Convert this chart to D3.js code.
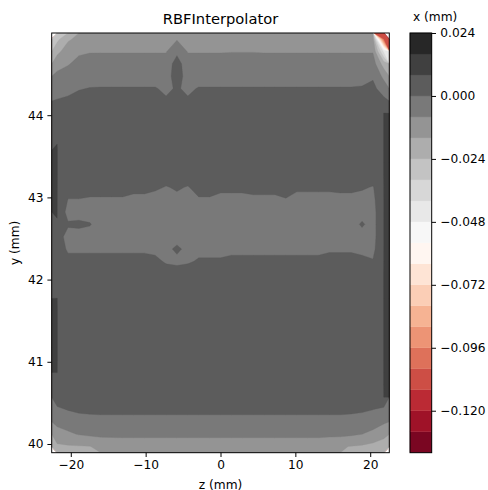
<!DOCTYPE html>
<html>
<head>
<meta charset="utf-8">
<script src="https://cdn.jsdelivr.net/npm/d3@7"></script>
<style>
  body { margin: 0; background: #fff; }
  text { font-family: "DejaVu Sans", sans-serif; fill: #000; }
</style>
</head>
<body>
<div class="vis-contour"></div>
<script>
// grid extent (cell edges) in mm
const zRange = [-22.55, 22.55];
const yRange = [39.894, 45.0];

const zTicks = [-20, -10, 0, 10, 20];
const yTicks = [40, 41, 42, 43, 44];
const cbarTicks = [0.024, 0.0, -0.024, -0.048, -0.072, -0.096, -0.120];

// contourf levels (mm)
const levels = [-0.136, -0.128, -0.120, -0.112, -0.104, -0.096, -0.088, -0.080, -0.072, -0.064,
  -0.056, -0.048, -0.040, -0.032, -0.024, -0.016, -0.008, 0.0, 0.008, 0.016, 0.024];

// RdGy colormap stops
const rdgyStops = ["#67001f", "#b2182b", "#d6604d", "#f4a582", "#fddbc7", "#ffffff",
  "#e0e0e0", "#bababa", "#878787", "#4d4d4d", "#1a1a1a"];

// x displacement in micrometres; rows from y = 45 (top) down to y = 39.9,
// 31 columns from z = -22.5 to z = 22.5
const xMicron = [
  [-26, -17, -14, -13, -12, -12, -12, -12, -12, -12, -12, -8.6, -12, -12, -12, -12, -12, -12, -12, -12, -12, -12, -12, -12, -12, -12, -12, -12, -12, -12, -106],
  [-18, -12, -9, -8.5, -8.5, -8.5, -8.5, -8.5, -8.5, -8.5, -8.5, -1.5, -8.5, -8.5, -8.5, -8.5, -8.3, -8.3, -8.3, -8.5, -8.5, -8.5, -8.5, -8.5, -8.5, -8.5, -8.5, -8.5, -8.5, -8.5, -42],
  [-11, -8.5, -6, -4.5, -4, -4, -4, -4, -4, -4, -4, 3, -4, -4, -4, -4, -4, -4, -4, -4, -4, -4, -4, -4, -4, -4, -4, -4, -4, -4, -20],
  [-6, -5, -4, -3.5, -3.5, -3.5, -3.5, -3.5, -3.5, -3.5, -3.5, 4, -3.5, -3.5, -3.5, -3.5, -3.5, -3.5, -3.5, -3.5, -3.5, -3.5, -3.5, -3.5, -3.5, -3.5, -3.5, -3.5, -3, -1, -10],
  [-3, -1.5, -0.5, 0.3, 0.5, 0.5, 0.5, 0.5, 0.5, 0.5, -1.5, 0.8, -1.5, 0.5, 0.5, 0.5, 0.5, 0.5, 0.5, 0.5, 0.5, 0.5, 0.5, 0.5, 0.5, 0.5, 0.5, 0.5, 0.8, 2, -4],
  [0.5, 1, 3, 4, 4, 4, 4, 4, 4, 4, 1, 3, 1, 4, 4, 4, 4, 4, 4, 4, 4, 4, 4, 4, 4, 4, 4, 4, 4, 4, 2],
  [4, 4, 4, 4, 4, 4, 4, 4, 4, 4, 4, 4, 4, 4, 4, 4, 4, 4, 4, 4, 4, 4, 4, 4, 4, 4, 4, 4, 4, 4, 8.1],
  [4, 4, 4, 4, 4, 4, 4, 4, 4, 4, 4, 4, 4, 4, 4, 4, 4, 4, 4, 4, 4, 4, 4, 4, 4, 4, 4, 4, 4, 4, 8.1],
  [7.9, 4, 4, 4, 4, 4, 4, 4, 4, 4, 4, 4, 4, 4, 4, 4, 4, 4, 4, 4, 4, 4, 4, 4, 4, 4, 4, 4, 4, 4, 8.1],
  [8.1, 4, 4, 4, 4, 4, 4, 4, 4, 4, 4, 4, 4, 4, 4, 4, 4, 4, 4, 4, 4, 4, 4, 4, 4, 4, 4, 4, 4, 4, 8.1],
  [8.1, 4, 4, 4, 4, 4, 4, 4, 4, 4, 4, 4, 4, 4, 4, 4, 4, 4, 4, 4, 4, 4, 4, 4, 4, 4, 4, 4, 4, 4, 8.1],
  [8.1, 4, 4, 4, 4, 4, 4, 4, 4, 4, 4, 4, 4, 4, 4, 4, 4, 4, 4, 4, 4, 4, 4, 4, 4, 4, 4, 4, 4, 4, 8.1],
  [8.1, 3, 3, 3, 3, 3, 3, 3, 3, 1.5, -0.5, 1, -0.5, 3, 3, 2.5, 2.5, 2.5, 3, 3, 3, 3, 2, 2, 2, 2, 2.5, 2.5, 1, -0.5, 8.1],
  [8.1, -0.2, -0.2, -0.85, -0.85, -0.85, -0.85, -2.6, -2.6, -3.5, -2, -2, -2, -0.85, -0.85, -3, -3, -3, -2, -2, -2, -0.4, -3.4, -3.4, -3.4, -3.4, -3, -3, -3, -2, 8.1],
  [8.1, -3, -3, -3, -3, -3, -3, -3, -3, -3, -3, -3, -3, -3, -3, -3, -3, -3, -3, -3, -3, -3, -3, -3, -3, -3, -3, -3, -3, -3, 8.1],
  [7.9, 1, 1.5, 0.5, -3, -3, -3, -3, -3, -3, -3, -3, -3, -3, -3, -3, -3, -3, -3, -3, -3, -3, -3, -3, -3, -3, -3, -3, 1, -3, 8.1],
  [4, -3, -3, -3, -3, -3, -3, -3, -3, -3, -3, -3, -3, -3, -3, -3, -3, -3, -3, -3, -3, -3, -3, -3, -3, -3, -3, -3, -3, -3, 8.1],
  [4, -1, -1, -1, -1, -1, -1, -1, -1, -2, -2, 1.5, -2, -2, -2, -2, -2, -2, -2, -2, -2, -2, -2, -2, -2, -1, -1, -1, -2, -2, 8.1],
  [4, 2, 2, 2, 2, 2, 2, 2, 2, 2, -1, -2, -1, 0.8, 0.8, 0.8, 2, 2, 2, 2, 2, 2, 2, 2, 2, 2.5, 2.5, 2.5, 2, 0.5, 8.1],
  [4, 4, 4, 4, 4, 4, 4, 4, 4, 4, 4, 4, 4, 4, 4, 4, 4, 4, 4, 4, 4, 4, 4, 4, 4, 4, 4, 4, 4, 4, 8.1],
  [4, 4, 4, 4, 4, 4, 4, 4, 4, 4, 4, 4, 4, 4, 4, 4, 4, 4, 4, 4, 4, 4, 4, 4, 4, 4, 4, 4, 4, 4, 8.1],
  [8.05, 4, 4, 4, 4, 4, 4, 4, 4, 4, 4, 4, 4, 4, 4, 4, 4, 4, 4, 4, 4, 4, 4, 4, 4, 4, 4, 4, 4, 4, 8.1],
  [8.1, 4, 4, 4, 4, 4, 4, 4, 4, 4, 4, 4, 4, 4, 4, 4, 4, 4, 4, 4, 4, 4, 4, 4, 4, 4, 4, 4, 4, 4, 8.1],
  [8.1, 4, 4, 4, 4, 4, 4, 4, 4, 4, 4, 4, 4, 4, 4, 4, 4, 4, 4, 4, 4, 4, 4, 4, 4, 4, 4, 4, 4, 4, 8.1],
  [8.1, 4, 4, 4, 4, 4, 4, 4, 4, 4, 4, 4, 4, 4, 4, 4, 4, 4, 4, 4, 4, 4, 4, 4, 4, 4, 4, 4, 4, 4, 8.1],
  [8.1, 4, 4, 4, 4, 4, 4, 4, 4, 4, 4, 4, 4, 4, 4, 4, 4, 4, 4, 4, 4, 4, 4, 4, 4, 4, 4, 4, 4, 4, 8.1],
  [8.1, 4, 4, 4, 4, 4, 4, 4, 4, 4, 4, 4, 4, 4, 4, 4, 4, 4, 4, 4, 4, 4, 4, 4, 4, 4, 4, 4, 4, 4, 8.1],
  [8.05, 4, 4, 4, 4, 4, 4, 4, 4, 4, 4, 4, 4, 4, 4, 4, 4, 4, 4, 4, 4, 4, 4, 4, 4, 4, 4, 4, 4, 4, 8.1],
  [4, 4, 4, 4, 4, 4, 4, 4, 4, 4, 4, 4, 4, 4, 4, 4, 4, 4, 4, 4, 4, 4, 4, 4, 4, 4, 4, 4, 4, 4, 8.1],
  [3, 3.5, 4, 4, 4, 4, 4, 4, 4, 4, 4, 4, 4, 4, 4, 4, 4, 4, 4, 4, 4, 4, 4, 4, 4, 4, 4, 4, 4, 3, 8.05],
  [-1, 0.3, 1.2, 1.4, 1.5, 1.5, 1.5, 1.5, 1.5, 1.5, 1.5, 1.5, 1.5, 1.5, 1.5, 1.5, 1.5, 1.5, 1.5, 1.5, 1.5, 1.5, 1.5, 1.5, 1.5, 1.5, 1.5, 1.4, 1, 0.1, -1.8],
  [-6, -3.8, -2.8, -2.2, -2, -2, -2, -2, -2, -2, -2, -2, -2, -2, -2, -2, -2, -2, -2, -2, -2, -2, -2, -2, -2, -2, -2, -2.5, -3, -4.5, -7],
  [-11, -9.5, -7.5, -6.5, -6, -6, -6, -6, -6, -6, -6, -6, -6, -6, -6, -6, -6, -6, -6, -6, -6, -6, -6, -6, -6, -6, -6, -6.8, -8, -10, -13],
  [-17.5, -16.8, -16.5, -16.2, -14, -13.5, -13, -13, -13, -13, -13, -13, -13, -13, -13, -13, -13, -13, -13, -13, -13, -13, -13, -13, -13, -14.5, -15.5, -16.2, -17, -18.5, -21]
];

const draw = () => {
    const width = 488;
    const height = 490;
    const plot = { left: 51.7, right: 389.3, top: 33, bottom: 452.7 };
    const cbar = { left: 410, right: 431.7 };
    const fontSize = '12.2px';
    const tickLen = 4.3;
    const lineW = 0.98;

    const svg = d3.select('.vis-contour').append('svg')
        .attr('width', width).attr('height', height);

    const nz = xMicron[0].length;
    const ny = xMicron.length;
    const values = xMicron.flat().map(v => v / 1000);

    const xScale = d3.scaleLinear().domain(zRange).range([plot.left, plot.right]);
    const yScale = d3.scaleLinear().domain(yRange).range([plot.bottom, plot.top]);

    const rdgy = d3.scaleLinear()
        .domain(rdgyStops.map((c, i) => i / (rdgyStops.length - 1)))
        .range(rdgyStops);
    const nBands = levels.length - 1;
    const bandColor = k => rdgy((k + 0.5) / nBands);

    // grid coordinates -> data -> pixels
    const gridToPx = d3.geoTransform({
        point: function (gx, gy) {
            const z = zRange[0] + gx / nz * (zRange[1] - zRange[0]);
            const y = yRange[1] - gy / ny * (yRange[1] - yRange[0]);
            this.stream.point(xScale(z), yScale(y));
        }
    });
    const path = d3.geoPath(gridToPx);

    const bands = d3.contours()
        .size([nz, ny])
        .thresholds(levels.slice(0, -1))(values);

    svg.append('defs').append('clipPath').attr('id', 'plot-clip')
        .append('rect')
        .attr('x', plot.left).attr('y', plot.top)
        .attr('width', plot.right - plot.left).attr('height', plot.bottom - plot.top);

    svg.append('g').attr('clip-path', 'url(#plot-clip)')
        .selectAll('path').data(bands)
        .enter().append('path')
        .attr('d', path)
        .attr('fill', (d, i) => bandColor(i))
        .attr('stroke', (d, i) => bandColor(i))
        .attr('stroke-width', 0.3);

    // axes
    const xAxis = d3.axisBottom(xScale).tickValues(zTicks).tickSize(tickLen).tickPadding(3.5)
        .tickFormat(d3.format('d'));
    const yAxis = d3.axisLeft(yScale).tickValues(yTicks).tickSize(tickLen).tickPadding(3.8)
        .tickFormat(d3.format('d'));

    const xAxisG = svg.append('g').attr('transform', `translate(0,${plot.bottom})`).call(xAxis);
    const yAxisG = svg.append('g').attr('transform', `translate(${plot.left},0)`).call(yAxis);
    [xAxisG, yAxisG].forEach(g => {
        g.select('.domain').remove();
        g.selectAll('line').attr('stroke', '#000').attr('stroke-width', lineW);
        g.selectAll('text').attr('font-size', fontSize).attr('font-family', 'DejaVu Sans');
    });

    svg.append('rect')
        .attr('x', plot.left).attr('y', plot.top)
        .attr('width', plot.right - plot.left).attr('height', plot.bottom - plot.top)
        .attr('fill', 'none').attr('stroke', '#000').attr('stroke-width', lineW);

    svg.append('text')
        .attr('x', (plot.left + plot.right) / 2).attr('y', 24)
        .attr('text-anchor', 'middle').attr('font-size', '14.7px')
        .text('RBFInterpolator');

    svg.append('text')
        .attr('x', (plot.left + plot.right) / 2).attr('y', 489)
        .attr('text-anchor', 'middle').attr('font-size', fontSize)
        .text('z (mm)');

    svg.append('text')
        .attr('transform', `translate(19,${(plot.top + plot.bottom) / 2}) rotate(-90)`)
        .attr('text-anchor', 'middle').attr('font-size', fontSize)
        .text('y (mm)');

    // colorbar
    const cScale = d3.scaleLinear().domain([levels[0], levels[levels.length - 1]])
        .range([plot.bottom, plot.top]);
    const cbG = svg.append('g');
    cbG.selectAll('rect').data(d3.pairs(levels))
        .enter().append('rect')
        .attr('x', cbar.left)
        .attr('width', cbar.right - cbar.left)
        .attr('y', d => cScale(d[1]))
        .attr('height', d => cScale(d[0]) - cScale(d[1]))
        .attr('fill', (d, i) => bandColor(i))
        .attr('stroke', (d, i) => bandColor(i))
        .attr('stroke-width', 0.3);
    cbG.append('rect')
        .attr('x', cbar.left).attr('y', plot.top)
        .attr('width', cbar.right - cbar.left).attr('height', plot.bottom - plot.top)
        .attr('fill', 'none').attr('stroke', '#000').attr('stroke-width', lineW);

    const cAxisG = svg.append('g').attr('transform', `translate(${cbar.right},0)`)
        .call(d3.axisRight(cScale).tickValues(cbarTicks).tickSize(tickLen).tickPadding(4.3)
            .tickFormat(d3.format('.3f')));
    cAxisG.select('.domain').remove();
    cAxisG.selectAll('line').attr('stroke', '#000').attr('stroke-width', lineW);
    cAxisG.selectAll('text').attr('font-size', fontSize).attr('font-family', 'DejaVu Sans');

    svg.append('text')
        .attr('x', 413).attr('y', 21)
        .attr('text-anchor', 'start').attr('font-size', fontSize)
        .text('x (mm)');
};

draw();
</script>
</body>
</html>
